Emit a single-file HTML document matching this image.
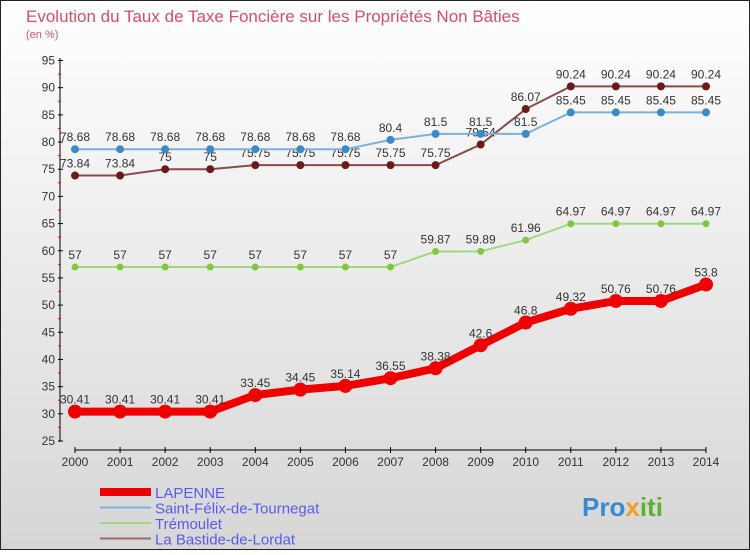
<!DOCTYPE html>
<html><head><meta charset="utf-8"><style>
body{margin:0;width:750px;height:550px;overflow:hidden;font-family:"Liberation Sans",sans-serif}
</style></head><body>
<svg width="750" height="550" xmlns="http://www.w3.org/2000/svg" id="svg">
<defs><linearGradient id="bg" x1="0" y1="0" x2="0" y2="1"><stop offset="0" stop-color="#ffffff"/><stop offset="1" stop-color="#d6d6d6"/></linearGradient></defs>
<rect x="0.5" y="0.5" width="749" height="549" fill="url(#bg)" stroke="#222"/>
<text x="26" y="22" font-size="17" fill="#d0506a">Evolution du Taux de Taxe Foncière sur les Propriétés Non Bâties</text>
<text x="26" y="38" font-size="11" fill="#d0506a">(en %)</text>
<g id="axes"></g><g id="series"></g><g id="legend"></g>
<text x="582" y="516" font-size="26" font-weight="bold" fill="#3a8ad0">Pro<tspan fill="#f0a020">x</tspan><tspan fill="#60b030">iti</tspan></text>
</svg>
<script>
const years=[2000,2001,2002,2003,2004,2005,2006,2007,2008,2009,2010,2011,2012,2013,2014];
const yTicks=[25,30,35,40,45,50,55,60,65,70,75,80,85,90,95];
const lapenne=[30.41,30.41,30.41,30.41,33.45,34.45,35.14,36.55,38.38,42.6,46.8,49.32,50.76,50.76,53.8];
const stFelix=[78.68,78.68,78.68,78.68,78.68,78.68,78.68,80.4,81.5,81.5,81.5,85.45,85.45,85.45,85.45];
const tremoulet=[57,57,57,57,57,57,57,57,59.87,59.89,61.96,64.97,64.97,64.97,64.97];
const bastide=[73.84,73.84,75,75,75.75,75.75,75.75,75.75,75.75,79.54,86.07,90.24,90.24,90.24,90.24];
const names=["LAPENNE","Saint-Félix-de-Tournegat","Trémoulet","La Bastide-de-Lordat"];
const NS="http://www.w3.org/2000/svg";
const xs=i=>75+i*(706-75)/(years.length-1);
const ys=v=>441-(v-25)*(441-60.5)/70;
function mk(t,a,p){const e=document.createElementNS(NS,t);for(const k in a)e.setAttribute(k,a[k]);p.appendChild(e);return e;}
const ax=document.getElementById('axes');
let l=mk('line',{x1:60,y1:58,x2:60,y2:442,stroke:'#000'},ax);


l=mk('line',{x1:75,y1:450,x2:706,y2:450,stroke:'#000'},ax);


yTicks.forEach((v,i)=>{const y=ys(v);
mk('line',{x1:58,y1:y,x2:63,y2:y,stroke:'#000'},ax);
if(i<yTicks.length-1)mk('line',{x1:58,y1:ys(v+2.5),x2:61,y2:ys(v+2.5),stroke:'#f00'},ax);
const t=mk('text',{x:55,y:y+4,'font-size':12,'text-anchor':'end',fill:'#333'},ax);t.textContent=v;

});
years.forEach((yr,i)=>{const x=xs(i);mk('line',{x1:x,y1:447,x2:x,y2:453,stroke:'#000'},ax);
const t=mk('text',{x:x,y:466,'font-size':12,'text-anchor':'middle',fill:'#333'},ax);t.textContent=yr;

});
const sg=document.getElementById('series');
function draw(data,col,ptc,w,r,name){const g=mk('g',{},sg);


mk('polyline',{points:data.map((v,i)=>xs(i)+','+ys(v)).join(' '),fill:'none',stroke:col,'stroke-width':w},g);
data.forEach((v,i)=>{const c=mk('circle',{cx:xs(i),cy:ys(v),r:r,fill:ptc},g);


const t=mk('text',{x:xs(i),y:ys(v)-8,'font-size':12,'text-anchor':'middle',fill:'#333'},g);t.textContent=v;

});}
draw(tremoulet,'#a0d880','#80c840',2,3.5,'series-tremoulet');
draw(bastide,'#8a4a4a','#6a1a1a',2,4,'series-bastide');
draw(stFelix,'#80b0d8','#3a8ac8',2,4,'series-st-felix');
draw(lapenne,'#ee0000','#ee0000',8,7,'series-lapenne');
const lg=document.getElementById('legend');
const cols=['#ee0000','#80b0d8','#a0d880','#9a6a6a'],wd=[8,2,2,2];
names.forEach((n,i)=>{const y=492+i*15.5;const g=mk('g',{},lg);


mk('line',{x1:100,y1:y,x2:151,y2:y,stroke:cols[i],'stroke-width':wd[i]},g);
const t=mk('text',{x:155,y:y+6,'font-size':15,fill:'#5a5aee'},g);t.textContent=n;});
</script>
</body></html>
